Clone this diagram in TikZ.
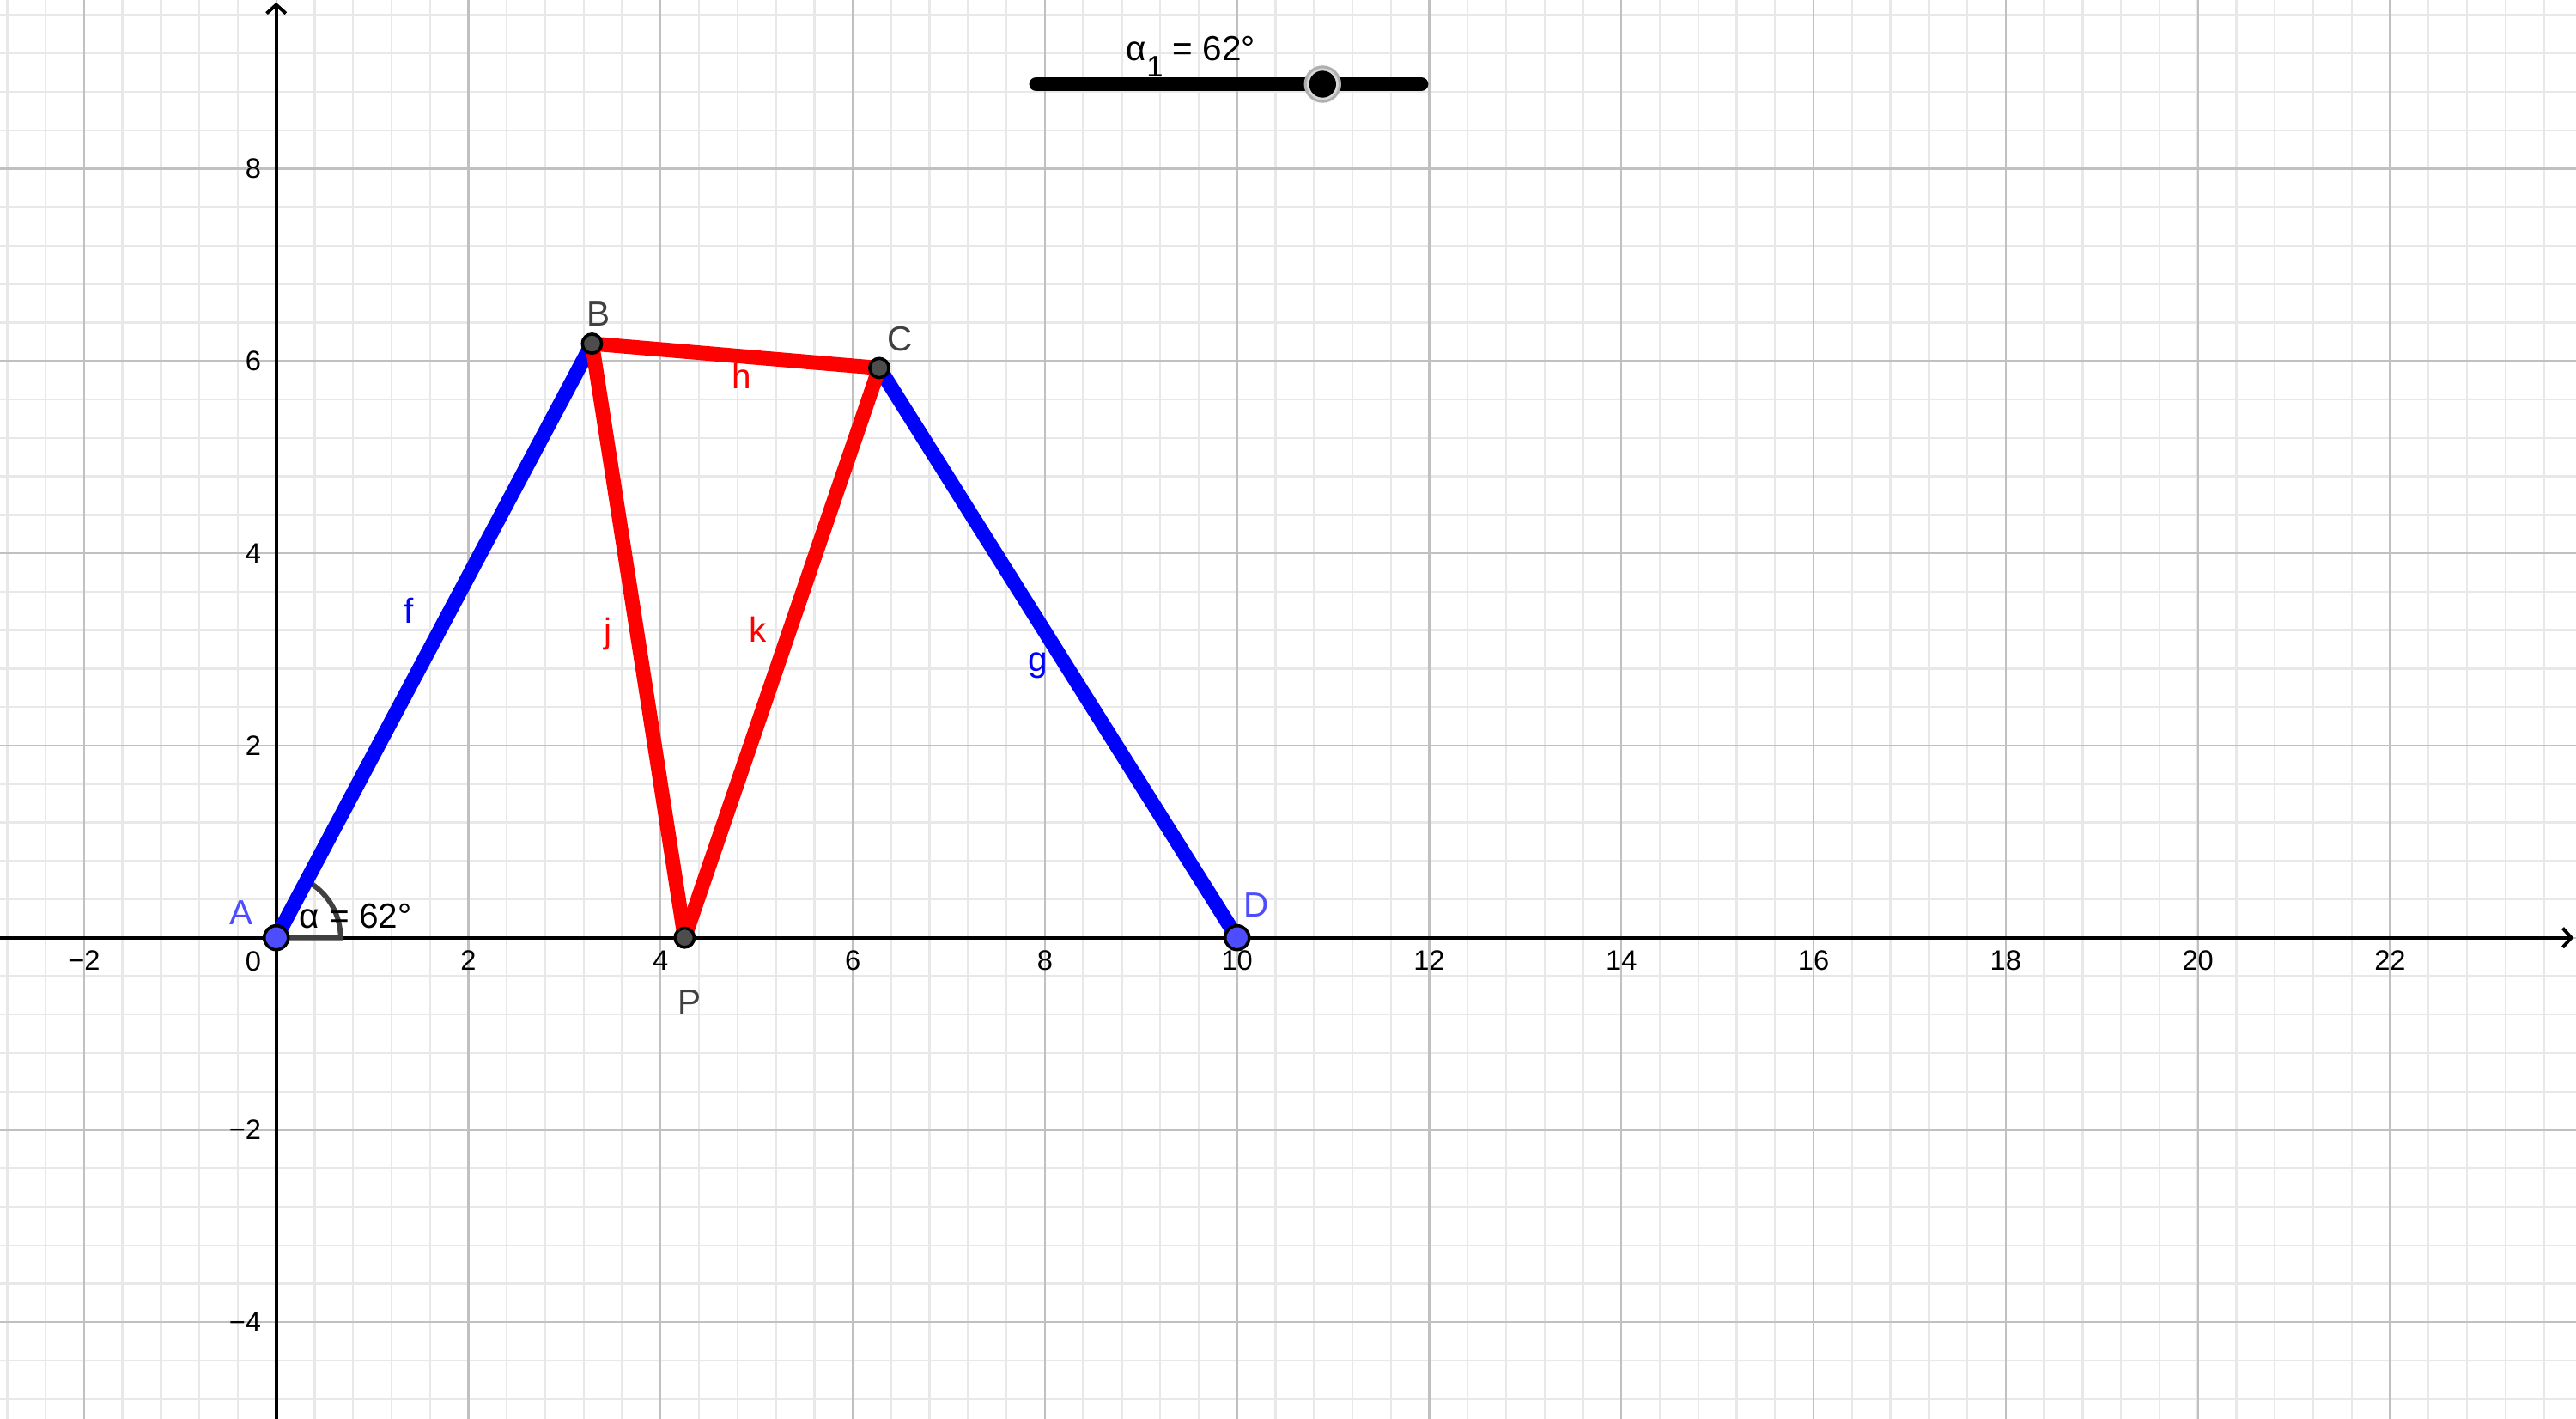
\documentclass[tikz,border=0pt]{standalone}
\usepackage{fontspec}
\setmainfont{Liberation Sans}
\usetikzlibrary{arrows.meta}
\definecolor{gridmaj}{RGB}{192,192,192}
\definecolor{gridmin}{RGB}{232,232,232}
\definecolor{ptblue}{RGB}{77,77,255}
\definecolor{ptdark}{RGB}{77,77,77}
\definecolor{lbldark}{RGB}{64,64,64}
\definecolor{angcol}{RGB}{64,64,64}
\definecolor{halofill}{RGB}{215,215,215}
\definecolor{haloedge}{RGB}{175,175,175}
\begin{document}
\begin{tikzpicture}[x=1cm,y=1cm,
  minorgrid/.style={draw=gridmin, line width=0.6pt},
  majorgrid/.style={draw=gridmaj, line width=0.6pt},
  axisline/.style={black, line width=1pt, -{Straight Barb[length=0.9mm,width=2.0mm,line width=1pt]}},
  ticklbl/.style={font=\fontsize{8.3}{10}\selectfont, inner sep=0pt, text=black},
  bluebar/.style={draw=blue, line width=4.3pt, line cap=round, line join=round},
  redbar/.style={draw=red, line width=4.3pt, line cap=round, line join=round},
  ptb/.style={circle, fill=ptblue, draw=black, line width=0.9pt, minimum size=2.5mm, inner sep=0pt},
  ptd/.style={circle, fill=ptdark, draw=black, line width=0.9pt, minimum size=2.0mm, inner sep=0pt},
  ptlabel/.style={font=\fontsize{10.3}{12}\selectfont, inner sep=0pt},
  seglabel/.style={font=\fontsize{10.3}{12}\selectfont, inner sep=0pt},
  anglemark/.style={draw=angcol, line width=1.5pt},
  sliderbar/.style={draw=black, line width=4.2pt, line cap=round}
]
% canvas
\useasboundingbox (-2.875,-5.007) rectangle (23.935,9.756);
\fill[white] (-2.875,-5.007) rectangle (23.935,9.756);
% grid
\draw[minorgrid] (-2.875,-5.007) grid[step=0.4] (23.935,9.756);
\draw[majorgrid] (-2.875,-5.007) grid[step=2] (23.935,9.756);
% axes
\coordinate (xl) at (-2.875,0);
\coordinate (xr) at (23.91,0);
\coordinate (yb) at (0,-5.007);
\coordinate (yt) at (0,9.73);
\draw[axisline] (xl) -- (xr);
\draw[axisline] (yb) -- (yt);
% tick labels
\foreach \v [count=\i] in {-2,2,4,6,8,10,12,14,16,18,20,22}{
  \node[ticklbl] (xt\i) at (\v,-0.24) {\ifnum\v<0 −\the\numexpr-\v\relax\else\v\fi};
}
\foreach \v [count=\i] in {-4,-2,2,4,6,8}{
  \node[ticklbl, anchor=east] (yt\i) at (-0.15,\v) {\ifnum\v<0 −\the\numexpr-\v\relax\else\v\fi};
}
\node[ticklbl] (zero) at (-0.24,-0.25) {0};
% points
\coordinate (A) at (0,0);
\coordinate (B) at (3.28630,6.18064);
\coordinate (C) at (6.27554,5.92695);
\coordinate (P) at (4.2504,0);
\coordinate (D) at (10,0);
% angle mark
\draw[anglemark] (A) -- ++(0.67,0) arc[start angle=0, end angle=62, radius=0.67];
% bars
\draw[bluebar] (A) -- (B);
\draw[bluebar] (C) -- (D);
\draw[redbar] (B) -- (C);
\draw[redbar] (B) -- (P);
\draw[redbar] (P) -- (C);
% point marks
\node[ptb] (Adot) at (A) {};
\node[ptb] (Ddot) at (D) {};
\node[ptd] (Bdot) at (B) {};
\node[ptd] (Cdot) at (C) {};
\node[ptd] (Pdot) at (P) {};
% point labels
\node[ptlabel, text=ptblue] (Alab) at (-0.36,0.26) {A};
\node[ptlabel, text=lbldark] (Blab) at (3.35,6.49) {B};
\node[ptlabel, text=lbldark] (Clab) at (6.49,6.23) {C};
\node[ptlabel, text=ptblue] (Dlab) at (10.20,0.34) {D};
\node[ptlabel, text=lbldark] (Plab) at (4.30,-0.67) {P};
% segment labels
\node[seglabel, text=blue] (flab) at (1.38,3.40) {f};
\node[seglabel, text=red] (jlab) at (3.45,3.16) {j};
\node[seglabel, text=red] (hlab) at (4.84,5.84) {h};
\node[seglabel, text=red] (klab) at (5.01,3.21) {k};
\node[seglabel, text=blue] (glab) at (7.93,2.83) {g};
% angle label
\node[ptlabel, text=black, anchor=base] (alab) at (0.826,0.10) {α = 62°};
% slider
\coordinate (s0) at (7.91,8.88);
\coordinate (s1) at (11.916,8.88);
\draw[sliderbar] (s0) -- (s1);
\node[circle, fill=halofill, draw=haloedge, line width=0.8pt, minimum size=3.6mm, inner sep=0pt] (knobhalo) at (10.89,8.88) {};
\node[circle, fill=black, minimum size=2.8mm, inner sep=0pt] (knob) at (10.89,8.88) {};
\node[ptlabel, text=black, anchor=base] (slab) at (9.52,9.13) {α\raisebox{-5pt}{\fontsize{8.8}{10}\selectfont 1} = 62°};
\end{tikzpicture}
\end{document}
